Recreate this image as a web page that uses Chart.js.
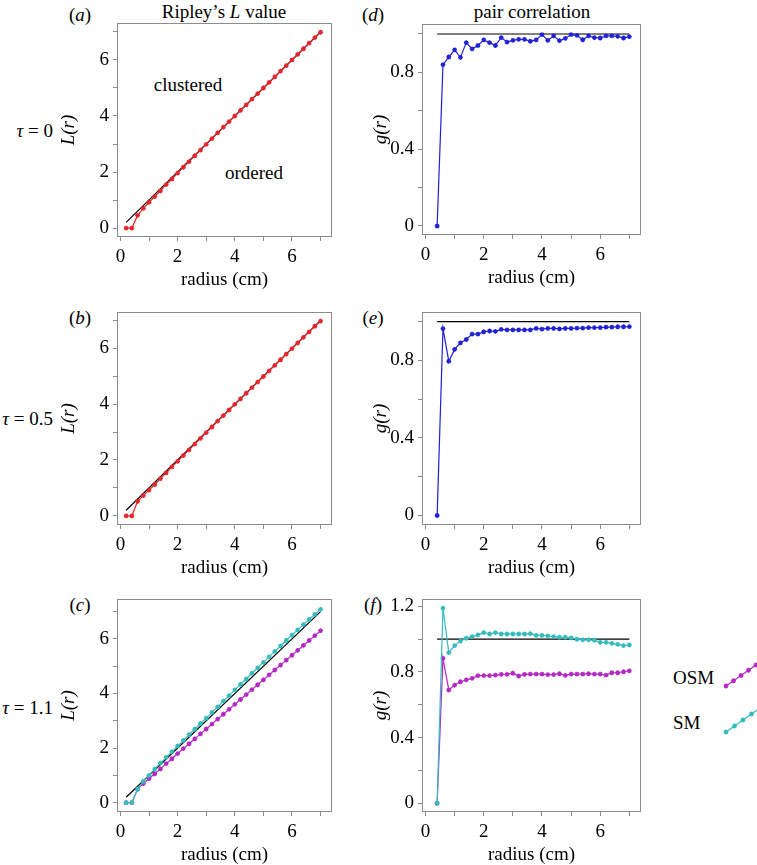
<!DOCTYPE html>
<html>
<head>
<meta charset="utf-8">
<script src="https://cdn.jsdelivr.net/npm/chart.js@4.4.0/dist/chart.umd.min.js"></script>
<style>
  body { margin: 0; background: #fff; }
  #fig { position: relative; width: 757px; height: 865px; overflow: hidden;
         font-family: "Liberation Serif", "Times New Roman", serif; font-size: 19px; color: #000; }
  #fig canvas { position: absolute; }
  .t { position: absolute; white-space: nowrap; line-height: 1; transform: translate(-50%, -50%); }
  .r { transform: translate(-100%, -50%); }
  .l { transform: translate(0, -50%); }
</style>
</head>
<body>
<div id="fig">
  <div class="t" style="left:224px;top:11px">Ripley’s <i>L</i> value</div>
  <div class="t" style="left:532px;top:11px">pair correlation</div>

  <div class="t" style="left:80px;top:14px">(<i>a</i>)</div>
  <div class="t" style="left:80px;top:317px">(<i>b</i>)</div>
  <div class="t" style="left:80px;top:604px">(<i>c</i>)</div>
  <div class="t" style="left:373px;top:14px">(<i>d</i>)</div>
  <div class="t" style="left:373px;top:317px">(<i>e</i>)</div>
  <div class="t" style="left:373px;top:604px">(<i>f</i>)</div>

  <div class="t r" style="left:53px;top:130px"><i>τ</i> = 0</div>
  <div class="t r" style="left:53px;top:418px"><i>τ</i> = 0.5</div>
  <div class="t r" style="left:53px;top:707px"><i>τ</i> = 1.1</div>

  <div class="t" style="left:188px;top:84px">clustered</div>
  <div class="t" style="left:254px;top:172px">ordered</div>

  <div class="t l" style="left:673px;top:677px">OSM</div>
  <div class="t l" style="left:673px;top:722px">SM</div>
</div>

<script>
// radii (cm)
const radiusL = [0.2, 0.4, 0.6, 0.8, 1.0, 1.2, 1.4, 1.6, 1.8, 2.0, 2.2, 2.4, 2.6, 2.8, 3.0, 3.2, 3.4, 3.6,
  3.8, 4.0, 4.2, 4.4, 4.6, 4.8, 5.0, 5.2, 5.4, 5.6, 5.8, 6.0, 6.2, 6.4, 6.6, 6.8, 7.0];
const radiusG = [0.4, 0.6, 0.8, 1.0, 1.2, 1.4, 1.6, 1.8, 2.0, 2.2, 2.4, 2.6, 2.8, 3.0, 3.2, 3.4, 3.6,
  3.8, 4.0, 4.2, 4.4, 4.6, 4.8, 5.0, 5.2, 5.4, 5.6, 5.8, 6.0, 6.2, 6.4, 6.6, 6.8, 7.0];

// Ripley's L
const L_tau0 = [0, 0, 0.45, 0.7, 0.92, 1.12, 1.33, 1.55, 1.75, 1.96, 2.17, 2.37, 2.58, 2.78, 2.99, 3.19,
  3.4, 3.6, 3.8, 4.0, 4.2, 4.4, 4.6, 4.8, 5.0, 5.2, 5.4, 5.6, 5.8, 6.0, 6.2, 6.4, 6.6, 6.8, 6.99];
const L_tau05 = [0, 0, 0.52, 0.72, 0.92, 1.12, 1.33, 1.54, 1.75, 1.95, 2.16, 2.36, 2.57, 2.77, 2.98, 3.18,
  3.39, 3.59, 3.79, 3.99, 4.19, 4.39, 4.59, 4.79, 4.99, 5.19, 5.39, 5.59, 5.79, 5.99, 6.19, 6.39, 6.59, 6.79, 6.97];
const L_osm = [0, 0, 0.5, 0.7, 0.88, 1.06, 1.24, 1.43, 1.61, 1.8, 1.98, 2.16, 2.34, 2.52, 2.7, 2.88,
  3.06, 3.24, 3.42, 3.6, 3.78, 3.96, 4.14, 4.32, 4.5, 4.68, 4.86, 5.04, 5.22, 5.4, 5.58, 5.76, 5.94, 6.12, 6.3];
const L_sm = [0, 0, 0.5, 0.78, 1.0, 1.23, 1.45, 1.66, 1.87, 2.08, 2.28, 2.49, 2.69, 2.9, 3.1, 3.31,
  3.51, 3.72, 3.92, 4.13, 4.33, 4.53, 4.74, 4.94, 5.14, 5.34, 5.54, 5.74, 5.94, 6.14, 6.33, 6.52, 6.71, 6.9, 7.08];

// pair correlation g
const g_tau0 = [0, 0.84, 0.88, 0.917, 0.878, 0.955, 0.922, 0.94, 0.969, 0.955, 0.94, 0.981, 0.958, 0.967,
  0.972, 0.972, 0.962, 0.969, 0.997, 0.967, 0.99, 0.965, 0.977, 0.997, 0.993, 0.97, 0.99, 0.981, 0.979,
  0.99, 0.99, 0.988, 0.979, 0.986];
const g_tau05 = [0, 0.964, 0.796, 0.857, 0.891, 0.908, 0.936, 0.936, 0.948, 0.952, 0.95, 0.96, 0.958, 0.958,
  0.958, 0.958, 0.958, 0.965, 0.962, 0.965, 0.965, 0.963, 0.965, 0.965, 0.967, 0.967, 0.969, 0.969, 0.969,
  0.972, 0.972, 0.974, 0.974, 0.975];
const g_osm = [0, 0.883, 0.69, 0.72, 0.74, 0.751, 0.761, 0.777, 0.777, 0.777, 0.781, 0.785, 0.785, 0.792,
  0.775, 0.785, 0.787, 0.787, 0.787, 0.783, 0.783, 0.789, 0.779, 0.787, 0.787, 0.787, 0.789, 0.787, 0.787,
  0.781, 0.795, 0.795, 0.801, 0.806];
const g_sm = [0, 1.188, 0.917, 0.96, 0.987, 1.005, 1.015, 1.025, 1.039, 1.031, 1.039, 1.031, 1.031, 1.031,
  1.031, 1.031, 1.033, 1.023, 1.023, 1.019, 1.015, 1.011, 1.011, 1.007, 0.999, 0.995, 0.995, 0.993, 0.98,
  0.98, 0.974, 0.968, 0.96, 0.964];

// reference (complete spatial randomness) lines
const refLx = [0.2, 7.0], refLy = [0.2, 7.0];
const refGx = [0.4, 7.0], refGy = [1, 1];

// ticks
const xTicks = [0, 1, 2, 3, 4, 5, 6, 7];
const xTickLabels = ["0", "", "2", "", "4", "", "6", ""];
const lTicks = [0, 1, 2, 3, 4, 5, 6, 7];
const lTickLabels = ["0", "", "2", "", "4", "", "6", ""];
const gTicks = [0, 0.2, 0.4, 0.6, 0.8, 1.0];
const gTickLabels = ["0", "", "0.4", "", "0.8", ""];
const gTicksF = [0, 0.2, 0.4, 0.6, 0.8, 1.0, 1.2];
const gTickLabelsF = ["0", "", "0.4", "", "0.8", "", "1.2"];

const RED = "#e3262b", BLUE = "#2121d6", MAGENTA = "#b428c4", CYAN = "#34bcbc";
const fig = document.getElementById("fig");
const font = { family: "Liberation Serif", size: 19 };

const frame = {
  id: "frame",
  beforeDatasetsDraw(chart) {
    const { ctx, chartArea: a } = chart;
    ctx.save();
    ctx.strokeStyle = "#8c8c8c";
    ctx.lineWidth = 1;
    ctx.strokeRect(a.left + 0.5, a.top + 0.5, a.width - 1, a.height - 1);
    ctx.restore();
  },
};

function pts(xs, ys) {
  return xs.map((x, i) => ({ x: x, y: ys[i] }));
}

function series(xs, ys, color) {
  return {
    data: pts(xs, ys),
    borderColor: color,
    backgroundColor: color,
    borderWidth: 1.2,
    pointStyle: "star",
    pointRadius: 2.4,
    pointBorderWidth: 1.3,
    pointBorderColor: color,
  };
}

function refLine(xs, ys) {
  return { data: pts(xs, ys), borderColor: "#000", borderWidth: 1.2, pointRadius: 0 };
}

function panel(box, canvasLeft, yTitle, yMin, yMax, yTicks, yLabels, datasets) {
  const [bl, bt, br, bb] = box;
  const pad = 6, xh = 56;
  const c = document.createElement("canvas");
  c.width = br + pad - canvasLeft;
  c.height = bb - bt + pad + xh;
  c.style.left = canvasLeft + "px";
  c.style.top = bt - pad + "px";
  fig.appendChild(c);

  const grid = { drawOnChartArea: false, drawTicks: true, tickLength: 4, color: "#8c8c8c" };

  new Chart(c, {
    type: "line",
    data: { datasets: datasets },
    options: {
      responsive: false,
      animation: false,
      devicePixelRatio: 1,
      layout: { padding: { top: pad, right: pad, left: 0, bottom: 0 } },
      plugins: { legend: { display: false }, tooltip: { enabled: false } },
      scales: {
        x: {
          type: "linear",
          min: -0.12,
          max: 7.4,
          afterFit: (s) => { s.height = xh; s.paddingLeft = 0; s.paddingRight = 0; },
          afterBuildTicks: (s) => { s.ticks = xTicks.map((v) => ({ value: v })); },
          ticks: { callback: (v, i) => xTickLabels[i], color: "#000", font: font, padding: 5,
                   maxRotation: 0, autoSkip: false },
          grid: grid,
          border: { display: false },
          title: { display: true, text: "radius (cm)", color: "#000", font: font, padding: { top: 0, bottom: 2 } },
        },
        y: {
          type: "linear",
          min: yMin,
          max: yMax,
          afterFit: (s) => { s.width = bl - canvasLeft; s.paddingTop = 0; s.paddingBottom = 0; },
          afterBuildTicks: (s) => { s.ticks = yTicks.map((v) => ({ value: v })); },
          ticks: { callback: (v, i) => yLabels[i], color: "#000", font: font, padding: 4, autoSkip: false },
          grid: grid,
          border: { display: false },
          title: { display: true, text: yTitle, color: "#000",
                   font: { family: "Liberation Serif", size: 19, style: "italic" }, padding: { top: 8, bottom: 0 } },
        },
      },
    },
    plugins: [frame],
  });
}

// left column: Ripley's L
panel([117, 23, 332, 237], 50, "L(r)", -0.32, 7.32, lTicks, lTickLabels,
  [series(radiusL, L_tau0, RED), refLine(refLx, refLy)]);
panel([117, 312, 332, 525], 50, "L(r)", -0.33, 7.3, lTicks, lTickLabels,
  [series(radiusL, L_tau05, RED), refLine(refLx, refLy)]);
panel([117, 599, 332, 812], 50, "L(r)", -0.34, 7.46, lTicks, lTickLabels,
  [series(radiusL, L_sm, CYAN), series(radiusL, L_osm, MAGENTA), refLine(refLx, refLy)]);

// right column: pair correlation
panel([422, 24, 641, 235], 362, "g(r)", -0.047, 1.052, gTicks, gTickLabels,
  [series(radiusG, g_tau0, BLUE), refLine(refGx, refGy)]);
panel([422, 312, 641, 525], 362, "g(r)", -0.049, 1.05, gTicks, gTickLabels,
  [series(radiusG, g_tau05, BLUE), refLine(refGx, refGy)]);
panel([422, 599, 641, 812], 362, "g(r)", -0.053, 1.244, gTicksF, gTickLabelsF,
  [series(radiusG, g_sm, CYAN), series(radiusG, g_osm, MAGENTA), refLine(refGx, refGy)]);

// legend glyphs
const lg = document.createElement("canvas");
lg.width = 40; lg.height = 90;
lg.style.left = "720px"; lg.style.top = "655px";
fig.appendChild(lg);
const lc = lg.getContext("2d");
function glyph(x0, y0, x1, y1, color) {
  lc.strokeStyle = color;
  lc.lineWidth = 1.2;
  lc.beginPath(); lc.moveTo(x0, y0); lc.lineTo(x1, y1); lc.stroke();
  lc.lineWidth = 1.3;
  for (let k = 0; k <= 4; k++) {
    const px = x0 + (x1 - x0) * k / 4, py = y0 + (y1 - y0) * k / 4, r = 2.4;
    lc.beginPath();
    lc.moveTo(px - r, py); lc.lineTo(px + r, py);
    lc.moveTo(px, py - r); lc.lineTo(px, py + r);
    lc.moveTo(px - r * 0.7, py - r * 0.7); lc.lineTo(px + r * 0.7, py + r * 0.7);
    lc.moveTo(px - r * 0.7, py + r * 0.7); lc.lineTo(px + r * 0.7, py - r * 0.7);
    lc.stroke();
  }
}
glyph(6, 31, 36, 10, MAGENTA);
glyph(6, 77, 40, 53, CYAN);
</script>
</body>
</html>
